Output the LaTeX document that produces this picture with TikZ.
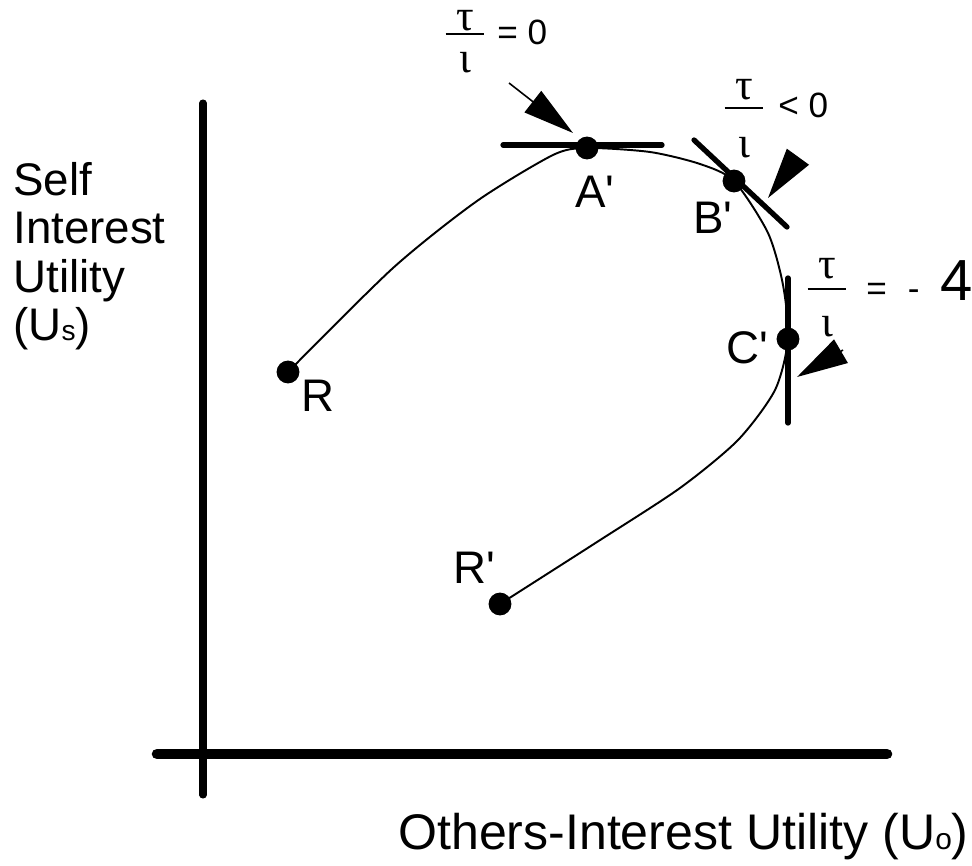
\documentclass[tikz,border=0pt]{standalone}
\usepackage{fontspec}
\setmainfont{Liberation Sans}
\newfontfamily\grk{Liberation Serif}
\usetikzlibrary{arrows.meta,positioning}
\newcommand{\pr}{\textquotesingle}
\newcommand{\grksize}{\grk\fontsize{25}{25}\selectfont}
% tau over iota, baseline at the bar
\newcommand{\tifrac}[2]{\vtop{\offinterlineskip
  \vbox{\halign{\hfil##\hfil\cr\grksize τ\cr\noalign{\kern#1}%
    \vrule width 22pt height 1.1pt\cr}}%
  \kern#2
  \hbox to 22pt{\hfil\grksize ι\hfil}}}
\tikzset{
  axis/.style   ={line cap=round},
  tangent/.style={line width=3pt,line cap=round},
  curveline/.style={line width=1.1pt,line join=round},
  dot/.style    ={circle,fill=black,inner sep=0pt,minimum size=13pt},
  lbl/.style    ={inner sep=0pt,font=\fontsize{26}{27.5}\selectfont},
  rel/.style    ={inner sep=0pt,font=\fontsize{20}{22}\selectfont,anchor=base west},
  pointer/.style={-{Triangle[length=1.02cm,width=0.54cm]},line width=0.9pt}
}
\begin{document}
\begin{tikzpicture}[x=0.02cm,y=-0.02cm]
  \useasboundingbox (0,0) rectangle (972,865);
  % axes
  \draw[axis,line width=4pt] (203,103) -- (203,795);
  \draw[axis,line width=6pt] (157,754) -- (887,754);
  % points on the curve
  \node[dot] (R)  at (288,372) {};
  \node[dot] (A)  at (587,148) {};
  \node[dot] (B)  at (734,181) {};
  \node[dot] (C)  at (788,339) {};
  \node[dot] (Rp) at (500,604) {};
  \draw[curveline] plot[smooth,tension=0.45] coordinates {(288,372) (393,268)
    (477,201) (553,155) (587,148) (650,152) (700,164) (734,181)
    (768,233) (783,285) (788,339) (775,390) (738,440) (680,488) (597,542) (500,604)};
  % tangents
  \draw[tangent] (503,145) -- (662,145);
  \draw[tangent] (694,140) -- (787,227);
  \draw[tangent] (788,278) -- (788,423);
  % arrows
  \coordinate (tailA) at (509,83);  \coordinate (tipA) at (573,133);
  \coordinate (tailB) at (797,158); \coordinate (tipB) at (768,198);
  \coordinate (tailC) at (843,350); \coordinate (tipC) at (797,377);
  \draw[pointer] (tailA) -- (tipA);
  \draw[pointer] (tailB) -- (tipB);
  \draw[pointer] (tailC) -- (tipC);
  % point labels
  \node[lbl] (labA)  at (595,192) {A\pr};
  \node[lbl] (labB)  at (713,218) {B\pr};
  \node[lbl] (labC)  at (747,348) {C\pr};
  \node[lbl] (labR)  at (318,396) {R};
  \node[lbl] (labRp) at (474,568) {R\pr};
  % slopes
  \node[inner sep=0pt,anchor=base] (fracA) at (465,35) {\tifrac{1.5pt}{10pt}};
  \node[rel] (relA) at (497,45) {= 0};
  \node[inner sep=0pt,anchor=base] (fracB) at (744,109) {\tifrac{4pt}{16pt}};
  \node[rel] (relB) at (778,117) {< 0};
  \node[inner sep=0pt,anchor=base] (fracC) at (827,290) {\tifrac{5pt}{15pt}};
  \node[rel] (relC) at (866,300) {=\hspace{12pt}-\hspace{12pt}{\fontsize{33}{33}\selectfont 4}};
  % axis titles
  \node[lbl,align=left,anchor=north west] (ylab) at (13,162)
    {Self\\Interest\\Utility\\(U{\fontsize{16}{16}\selectfont s})};
  \node[lbl,anchor=base west,font=\fontsize{28.5}{30}\selectfont] (xlab) at (398,849)
    {Others-Interest Utility (U{\fontsize{17}{17}\selectfont o})};
\end{tikzpicture}
\end{document}
